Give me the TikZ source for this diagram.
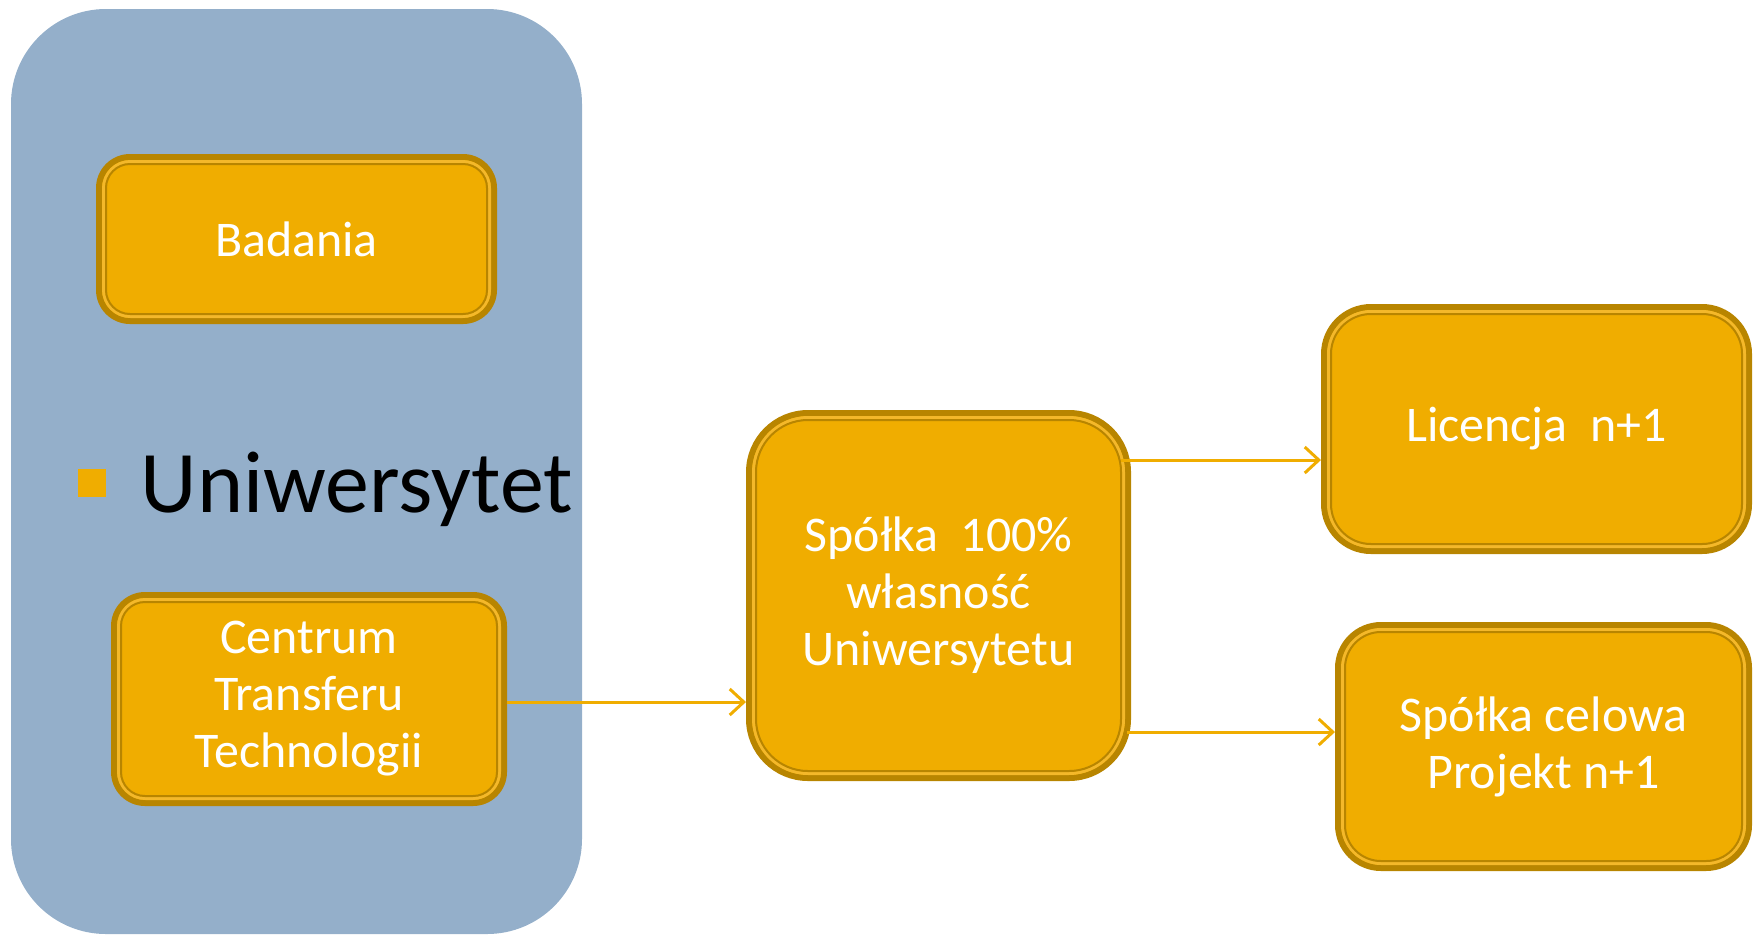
\documentclass[tikz,border=0pt]{standalone}
\usepackage{fontspec}
\setmainfont{Carlito}
\usetikzlibrary{arrows.meta}
\definecolor{gold}{HTML}{F0AD00}
\definecolor{glight}{HTML}{F4B82A}
\definecolor{gdark}{HTML}{B88500}
\definecolor{uniblue}{HTML}{94AFCA}
\newdimen\pxu \pxu=0.01cm
\newcommand\innerframe[2]{%
 \draw[lightline, rounded corners=#2\pxu] ([shift={(4.5,4.5)}]#1.north west) rectangle ([shift={(-4.5,-4.5)}]#1.south east);
 \draw[innerline, rounded corners=#2\pxu-3\pxu] ([shift={(7,7)}]#1.north west) rectangle ([shift={(-7,-7)}]#1.south east);}
\begin{document}
\begin{tikzpicture}[x=0.01cm,y=-0.01cm,
 gbox/.style={draw=gdark, fill=gold, line width=6\pxu, outer sep=0pt, text=white, align=center, inner sep=0pt, font=\fontsize{14.2}{16.2}\selectfont},
 lightline/.style={draw=glight, line width=3\pxu},
 innerline/.style={draw=gdark, line width=2\pxu},
 arr/.style={draw=gold, line width=0.85pt, -{Straight Barb[length=4pt, width=7.4pt]}},
]
\useasboundingbox (0,0) rectangle (1758,936);
\clip (0,0) rectangle (1758,936);
\fill[uniblue, rounded corners=95\pxu] (11,9) rectangle (582,934);

\node[gbox, rounded corners=31\pxu, minimum width=395\pxu, minimum height=164\pxu] (bad) at (296.5,239) {Badania};
\innerframe{bad}{27}
\node[gbox, rounded corners=31\pxu, minimum width=390\pxu, minimum height=208\pxu] (ctt) at (309,699) {Centrum\\Transferu\\Technologii};
\innerframe{ctt}{27}
\node[gbox, rounded corners=59\pxu, minimum width=379\pxu, minimum height=365\pxu] (sp) at (938.5,595.5) {Spółka\ \ 100\%\\własność\\Uniwersytetu};
\innerframe{sp}{55}
\node[gbox, rounded corners=47\pxu, minimum width=425\pxu, minimum height=244\pxu] (lic) at (1536.5,429) {Licencja\ \ n+1};
\innerframe{lic}{43}
\node[gbox, rounded corners=43\pxu, minimum width=411\pxu, minimum height=243\pxu] (cel) at (1543.5,746.5) {Spółka celowa\\Projekt n+1};
\innerframe{cel}{39}

\node[fill=gold, minimum size=28\pxu, inner sep=0pt] (bullet) at (92,483) {};
\node[anchor=base west, inner sep=0pt, font=\fontsize{25}{30}\selectfont] (uni) at (140,512) {Uniwersytet};

\coordinate (y1) at (0,702);
\coordinate (y2) at (1121,460);
\coordinate (y3) at (1127,732);
\draw[arr] ([xshift=3\pxu]ctt.east |- y1) -- ([xshift=-3\pxu]sp.west |- y1);
\draw[arr] (y2) -- ([xshift=-3\pxu]lic.west |- y2);
\draw[arr] (y3) -- ([xshift=-3\pxu]cel.west |- y3);
\end{tikzpicture}
\end{document}
